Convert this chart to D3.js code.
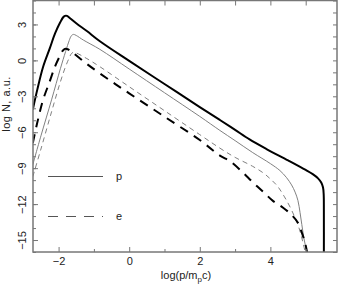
<!DOCTYPE html>
<html>
<head>
<meta charset="utf-8">
<script src="https://cdn.jsdelivr.net/npm/d3@7"></script>
<style>
body { margin: 0; background: #fff; }
text { font-family: "Liberation Sans", Arial, sans-serif; fill: #222; }
</style>
</head>
<body>
<svg id="chart" width="338" height="288"></svg>
<script>
// log N (a.u.) against log(p/m_p c)
const pThickX = [-2.73, -2.6, -2.44, -2.25, -2.1, -1.95, -1.87, -1.82, -1.76, -1.7, -1.5, -1.2, -0.83, 0, 1, 2, 2.57, 3, 3.41, 3.89, 4.5, 5.0, 5.2, 5.35, 5.44, 5.49, 5.51, 5.515, 5.515];
const pThickY = [-4.1, -2.4, -0.55, 1.0, 2.25, 3.2, 3.6, 3.72, 3.72, 3.58, 3.1, 2.45, 1.6, -0.04, -1.97, -3.9, -4.98, -5.8, -6.6, -7.4, -8.35, -9.15, -9.5, -9.85, -10.2, -10.6, -11.2, -12.5, -16.5];

const pThinX = [-2.73, -2.5, -2.2, -1.95, -1.8, -1.7, -1.64, -1.58, -1.5, -1.3, -0.83, 0, 1, 2, 2.57, 3, 3.5, 4, 4.27, 4.46, 4.6, 4.7, 4.78, 4.84, 4.89, 4.94, 5.0, 5.04];
const pThinY = [-8.7, -6.3, -3.3, -0.7, 0.75, 1.65, 2.05, 2.17, 2.08, 1.7, 0.92, -0.72, -2.7, -4.68, -5.85, -6.7, -7.7, -8.62, -9.2, -9.8, -10.4, -11.0, -11.7, -12.7, -13.7, -14.7, -15.6, -16.5];

const eThickX = [-2.73, -2.6, -2.44, -2.25, -2.1, -1.95, -1.87, -1.8, -1.74, -1.6, -1.2, -0.59, 0, 1, 2, 2.57, 2.85, 3.2, 3.51, 3.84, 4.08, 4.36, 4.6, 4.79, 4.88, 4.98, 5.07];
const eThickY = [-6.9, -5.15, -3.3, -1.75, -0.5, 0.45, 0.85, 0.97, 0.93, 0.65, -0.3, -1.58, -2.75, -4.7, -6.65, -7.95, -8.4, -9.3, -10.2, -11.1, -11.75, -12.3, -12.9, -13.6, -14.3, -15.2, -16.5];

const eThinX = [-2.73, -2.5, -2.2, -1.95, -1.8, -1.7, -1.64, -1.58, -1.5, -1.2, -0.83, 0, 1, 2, 2.57, 3, 3.5, 3.8, 4.0, 4.2, 4.4, 4.6, 4.8, 4.93, 5.02];
const eThinY = [-9.7, -7.4, -4.3, -1.8, -0.5, 0.2, 0.55, 0.68, 0.62, 0.15, -0.53, -2.2, -4.2, -6.2, -7.33, -8.1, -8.85, -9.4, -9.9, -10.5, -11.4, -12.5, -13.9, -15.3, -16.5];

const xTickLabels = [-2, 0, 2, 4];
const xMinorTicks = [-1, 1, 3, 5];
const yTickLabels = [3, 0, -3, -6, -9, -12, -15];
const legendLabels = ["p", "e"];

const svg = d3.select("#chart");
const mLeft = 33, mRight = 337, mTop = 0.5, mBottom = 252;

const x = d3.scaleLinear().domain([-2.725, 5.887]).range([mLeft, mRight]);
const y = d3.scaleLinear().domain([5, -16]).range([mTop, mBottom]);

const minus = d => d3.format("d")(d).replace("-", "\u2212");

svg.append("clipPath").attr("id", "clip")
    .append("rect")
    .attr("x", mLeft).attr("y", mTop)
    .attr("width", mRight - mLeft).attr("height", mBottom - mTop);

const toPts = (xs, ys) => xs.map((v, i) => [v, ys[i]]);
const line = d3.line()
    .x(d => x(d[0]))
    .y(d => y(d[1]))
    .curve(d3.curveCatmullRom.alpha(0.5));

const series = [
    {pts: toPts(pThinX, pThinY), color: "#808080", width: 1, dash: null},
    {pts: toPts(eThinX, eThinY), color: "#808080", width: 1, dash: "5,4"},
    {pts: toPts(eThickX, eThickY), color: "#000", width: 2, dash: "9,7"},
    {pts: toPts(pThickX, pThickY), color: "#000", width: 2, dash: null}
];

const g = svg.append("g").attr("clip-path", "url(#clip)");
g.selectAll("path")
    .data(series)
    .enter()
    .append("path")
    .attr("d", d => line(d.pts))
    .attr("fill", "none")
    .attr("stroke", d => d.color)
    .attr("stroke-width", d => d.width)
    .attr("stroke-dasharray", d => d.dash);

// axes, ticks pointing inward
const styleAxis = a => {
    a.select(".domain").remove();
    a.selectAll("line").attr("stroke", "#777");
    a.selectAll("text").style("font-size", "11px").style("font-family", "Liberation Sans, Arial, sans-serif").attr("fill", "#222");
};

svg.append("g").attr("transform", `translate(0,${mBottom})`)
    .call(d3.axisBottom(x).tickValues(xTickLabels).tickSize(-5).tickPadding(5).tickFormat(minus))
    .call(styleAxis);
svg.append("g").attr("transform", `translate(0,${mBottom})`)
    .call(d3.axisBottom(x).tickValues(xMinorTicks).tickSize(-3).tickFormat(""))
    .call(styleAxis);
svg.append("g").attr("transform", `translate(0,${mTop})`)
    .call(d3.axisTop(x).tickValues(xTickLabels.concat(xMinorTicks)).tickSize(-5).tickFormat(""))
    .call(styleAxis);

const yAll = d3.range(-16, 6, 1);
svg.append("g").attr("transform", `translate(${mLeft},0)`)
    .call(d3.axisLeft(y).tickValues(yAll).tickSize(-3).tickFormat(""))
    .call(styleAxis);
svg.append("g").attr("transform", `translate(${mRight},0)`)
    .call(d3.axisRight(y).tickValues(yAll).tickSize(-4).tickFormat(""))
    .call(styleAxis);

const yl = svg.append("g").attr("transform", `translate(${mLeft},0)`)
    .call(d3.axisLeft(y).tickValues(yTickLabels).tickSize(-5).tickFormat(minus))
    .call(styleAxis);
yl.selectAll("text")
    .attr("x", 0).attr("dy", "0.35em")
    .attr("text-anchor", "middle")
    .attr("transform", "translate(-11,0) rotate(-90)");

svg.append("rect")
    .attr("x", mLeft).attr("y", mTop)
    .attr("width", mRight - mLeft).attr("height", mBottom - mTop)
    .attr("fill", "none").attr("stroke", "#777").attr("stroke-width", 1.5);

// axis titles
const xt = svg.append("text")
    .attr("x", 186).attr("y", 279)
    .attr("text-anchor", "middle")
    .style("font-size", "11px");
xt.append("tspan").text("log(p/m");
xt.append("tspan").attr("dy", 3).style("font-size", "8px").text("p");
xt.append("tspan").attr("dy", -3).text("c)");

svg.append("text")
    .attr("transform", "translate(10,104) rotate(-90)")
    .attr("text-anchor", "middle")
    .style("font-size", "11px")
    .style("letter-spacing", "0.5px")
    .text("log N,  a.u.");

// legend
const legend = svg.append("g");
legendLabels.forEach((lab, i) => {
    const ly = 176.5 + i * 40;
    legend.append("line")
        .attr("x1", 48).attr("x2", 103)
        .attr("y1", ly).attr("y2", ly)
        .attr("stroke", "#555").attr("stroke-width", 1)
        .attr("stroke-dasharray", i ? "10,8" : null);
    legend.append("text")
        .attr("x", 116).attr("y", ly).attr("dy", "0.3em")
        .style("font-size", "11px")
        .text(lab);
});
</script>
</body>
</html>
